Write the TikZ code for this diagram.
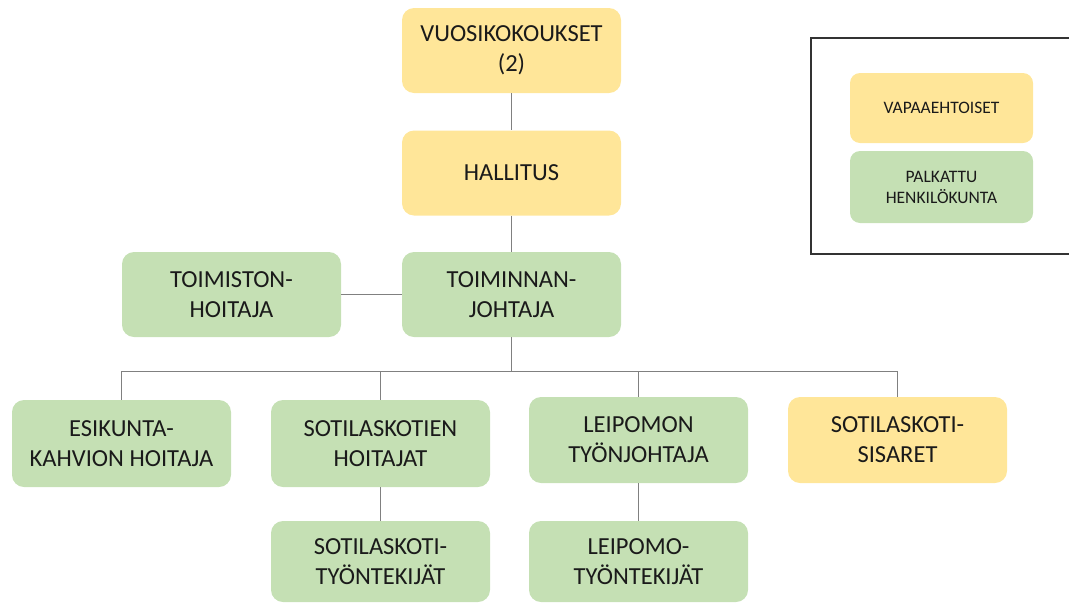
\documentclass[tikz,border=0pt]{standalone}
\usepackage{fontspec}
\setmainfont{Carlito}
\definecolor{vol}{HTML}{FFE699}
\definecolor{paid}{HTML}{C5E0B4}
\definecolor{conn}{HTML}{808080}
\definecolor{txt}{HTML}{1A1A1A}
\begin{document}
\begin{tikzpicture}[x=1pt,y=-1pt,
  orgbox/.style={rounded corners=12pt, minimum width=219pt, minimum height=85pt,
    inner sep=0pt, align=center, text=txt, font=\fontsize{24.5}{30}\selectfont},
  volbox/.style={orgbox, fill=vol},
  paidbox/.style={orgbox, fill=paid},
  legbox/.style={rounded corners=10pt, minimum width=183pt, inner sep=0pt,
    align=center, text=txt, font=\fontsize{17.5}{21}\selectfont},
  link/.style={draw=conn, line width=1pt}]
\useasboundingbox (0,0) rectangle (1069,603);
% top column
\node[volbox] (vuosi) at (511.5,50.5) {VUOSIKOKOUKSET\\(2)};
\node[volbox] (hall) at (511.5,173) {HALLITUS};
\node[paidbox] (tj) at (511.5,294.5) {TOIMINNAN-\\JOHTAJA};
\node[paidbox] (toim) at (231.5,294.5) {TOIMISTON-\\HOITAJA};
% row 3
\node[paidbox, minimum height=87pt] (esi) at (121.5,443.5) {ESIKUNTA-\\KAHVION HOITAJA};
\node[paidbox, minimum height=87pt] (skh) at (380.5,443.5) {SOTILASKOTIEN\\HOITAJAT};
\node[paidbox, minimum height=86pt] (leip) at (638.5,440) {LEIPOMON\\TYÖNJOHTAJA};
\node[volbox, minimum height=86pt] (sis) at (897.5,440) {SOTILASKOTI-\\SISARET};
% row 4
\node[paidbox, minimum height=81pt] (skt) at (380.5,561.5) {SOTILASKOTI-\\TYÖNTEKIJÄT};
\node[paidbox, minimum height=81pt] (lt) at (638.5,561.5) {LEIPOMO-\\TYÖNTEKIJÄT};
% connectors
\coordinate (busy) at (0,371);
\draw[link] (vuosi.south) -- (hall.north);
\draw[link] (hall.south) -- (tj.north);
\draw[link] (toim.east) -- (tj.west);
\draw[link] (tj.south) -- (tj.south |- busy);
\draw[link] (esi.north |- busy) -- (sis.north |- busy);
\draw[link] (esi.north |- busy) -- (esi.north);
\draw[link] (skh.north |- busy) -- (skh.north);
\draw[link] (leip.north |- busy) -- (leip.north);
\draw[link] (sis.north |- busy) -- (sis.north);
\draw[link] (skh.south) -- (skt.north);
\draw[link] (leip.south) -- (lt.north);
% legend
\draw[draw=black!80, line width=1.5pt] (811,38) rectangle (1075,254);
\node[legbox, fill=vol, minimum height=70pt] (lvol) at (941.5,108) {VAPAAEHTOISET};
\node[legbox, fill=paid, minimum height=72pt] (lpaid) at (941.5,187) {PALKATTU\\HENKILÖKUNTA};
\end{tikzpicture}
\end{document}
